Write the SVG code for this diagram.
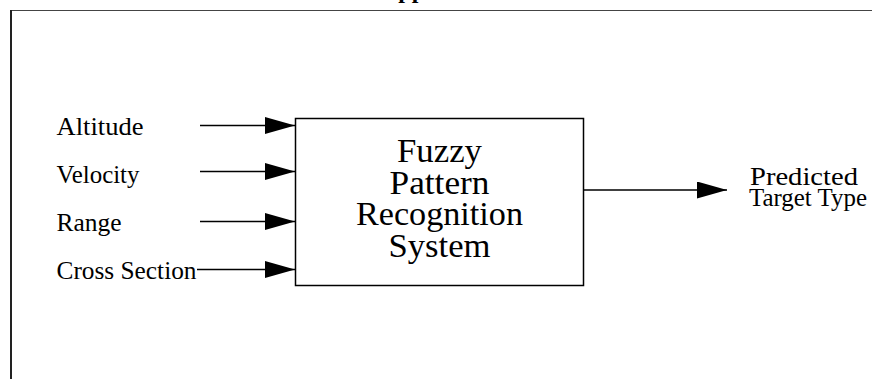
<svg xmlns="http://www.w3.org/2000/svg" width="872" height="379" viewBox="0 0 872 379">
<style>
.lbl{font-family:"Liberation Serif","Times New Roman",serif;font-size:25px;fill:#000}
.box-t{font-family:"Liberation Serif","Times New Roman",serif;font-size:34px;fill:#000;text-anchor:middle}
.conn{stroke:#000;stroke-width:1.5;fill:none}
</style>
<defs>
<marker id="ah" markerUnits="userSpaceOnUse" markerWidth="30" markerHeight="18" refX="30" refY="8.5" orient="auto">
<polygon points="0,0 30,8.5 0,17" fill="#000"/>
</marker>
</defs>
<rect width="872" height="379" fill="#fff"/>
<g id="frame">
<text x="441" y="-2" text-anchor="middle" font-family="Liberation Serif, serif" font-weight="bold" font-size="24">Application</text>
<line x1="11" y1="10.5" x2="872" y2="10.5" stroke="#444" stroke-width="1"/>
<line x1="11" y1="10" x2="11" y2="379" stroke="#222" stroke-width="2"/>
</g>
<g id="connectors">
<line class="conn" x1="200" y1="125.5" x2="295" y2="125.5" marker-end="url(#ah)"/>
<line class="conn" x1="200" y1="171.5" x2="295" y2="171.5" marker-end="url(#ah)"/>
<line class="conn" x1="200" y1="221.5" x2="295" y2="221.5" marker-end="url(#ah)"/>
<line class="conn" x1="197" y1="269.5" x2="295" y2="269.5" marker-end="url(#ah)"/>
<line class="conn" x1="583" y1="190" x2="727" y2="190" marker-end="url(#ah)"/>
</g>
<g id="altitude"><text class="lbl" x="56.5" y="134.5" textLength="87" lengthAdjust="spacingAndGlyphs">Altitude</text></g>
<g id="velocity"><text class="lbl" x="56.5" y="183" textLength="83" lengthAdjust="spacingAndGlyphs">Velocity</text></g>
<g id="range"><text class="lbl" x="56.5" y="231" textLength="65" lengthAdjust="spacingAndGlyphs">Range</text></g>
<g id="cross-section"><text class="lbl" x="56.5" y="279" textLength="140" lengthAdjust="spacingAndGlyphs">Cross Section</text></g>
<g id="fuzzy-system">
<rect x="295.5" y="118.5" width="288" height="167" fill="#fff" stroke="#000" stroke-width="1.5"/>
<text class="box-t" x="439.5" y="162" textLength="85" lengthAdjust="spacingAndGlyphs">Fuzzy</text>
<text class="box-t" x="439.5" y="193.5" textLength="100" lengthAdjust="spacingAndGlyphs">Pattern</text>
<text class="box-t" x="439.5" y="225" textLength="167" lengthAdjust="spacingAndGlyphs">Recognition</text>
<text class="box-t" x="439.5" y="257" textLength="102" lengthAdjust="spacingAndGlyphs">System</text>
</g>
<g id="predicted">
<text class="lbl" x="750" y="185" textLength="108" lengthAdjust="spacingAndGlyphs">Predicted</text>
<text class="lbl" x="749" y="205.5" textLength="118" lengthAdjust="spacingAndGlyphs">Target Type</text>
</g>
</svg>
